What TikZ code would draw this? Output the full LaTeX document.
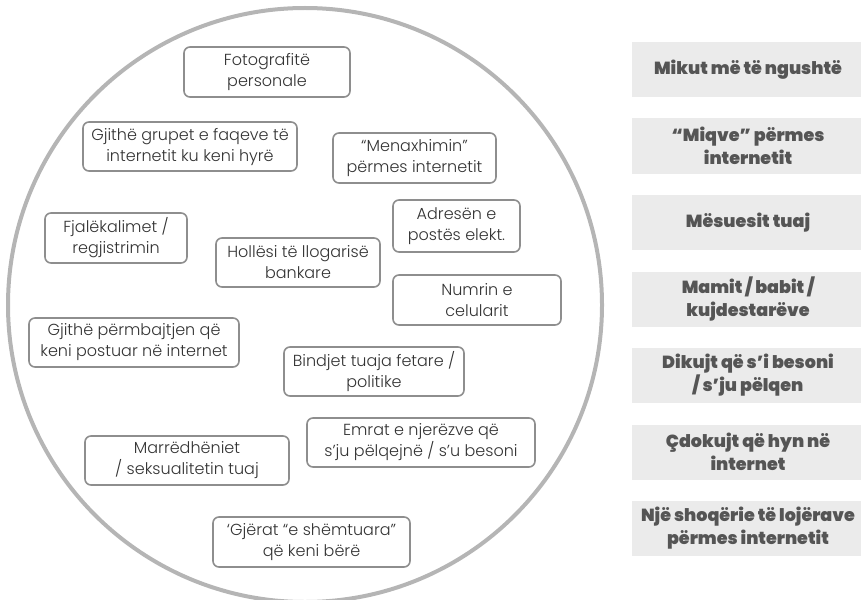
\documentclass[tikz,border=0pt]{standalone}
\usepackage{fontspec}
\setmainfont{Poppins}
\newfontfamily\thinfont{Poppins Light}
\newfontfamily\heavyfont{Poppins Black}
\usepackage{xcolor}
\usetikzlibrary{positioning}
\definecolor{ringgray}{HTML}{B5B5B5}
\definecolor{edgegray}{HTML}{8E8E8E}
\definecolor{textgray}{HTML}{333333}
\definecolor{panelgray}{HTML}{EBEBEB}
\definecolor{labelgray}{HTML}{555555}

\begin{document}
\begin{tikzpicture}[x=1pt,y=-1pt]
				\tikzstyle{ibox}=[draw=edgegray, line width=1.6pt, rounded corners=6pt, fill=white, inner sep=0pt, align=center, text=textgray, font=\thinfont\fontsize{16}{21}\selectfont]
				\tikzstyle{pbox}=[fill=panelgray, inner sep=0pt, minimum width=232pt, minimum height=55pt, align=center, text=labelgray, font=\heavyfont\fontsize{17.5}{23}\selectfont]
				\useasboundingbox (0,0) rectangle (861,599);
				% the big ring
				\draw[ringgray, line width=4pt] (305,305) circle (297);
				% boxes inside the ring
				\node[ibox, minimum width=166pt, minimum height=50pt] (foto) at (267,72) {Fotografitë\\personale};
				\node[ibox, minimum width=214pt, minimum height=49pt] (grupet) at (190,146.5) {Gjithë grupet e faqeve të\\internetit ku keni hyrë};
				\node[ibox, minimum width=163pt, minimum height=50pt] (menax) at (414.5,158) {“Menaxhimin”\\përmes internetit};
				\node[ibox, minimum width=127pt, minimum height=52pt] (adresa) at (456.5,226) {Adresën e\\postës elekt.};
				\node[ibox, minimum width=142pt, minimum height=50pt] (fjalekal) at (116,238) {Fjalëkalimet /\\regjistrimin};
				\node[ibox, minimum width=164pt, minimum height=49pt] (banka) at (298,262.5) {Hollësi të llogarisë\\bankare};
				\node[ibox, minimum width=168pt, minimum height=50pt] (celular) at (477,300) {Numrin e\\celularit};
				\node[ibox, minimum width=210pt, minimum height=49pt] (postime) at (134,342.5) {Gjithë përmbajtjen që\\keni postuar në internet};
				\node[ibox, minimum width=180pt, minimum height=49pt] (bindje) at (374,371.5) {Bindjet tuaja fetare /\\politike};
				\node[ibox, minimum width=228pt, minimum height=49pt] (emrat) at (421,442.5) {Emrat e njerëzve që\\s’ju pëlqejnë / s’u besoni};
				\node[ibox, minimum width=204pt, minimum height=49pt] (marredh) at (187,460.5) {Marrëdhëniet\\/ seksualitetin tuaj};
				\node[ibox, minimum width=197pt, minimum height=50pt] (gjerat) at (311.5,542) {‘Gjërat “e shëmtuara”\\që keni bërë};
				% panels on the right
				\node[pbox] (mik) at (748,69.5) {Mikut më të ngushtë};
				\node[pbox] (miqve) at (748,146) {“Miqve” përmes\\internetit};
				\node[pbox] (mesues) at (748,222.5) {Mësuesit tuaj};
				\node[pbox] (prind) at (748,299) {Mamit / babit /\\kujdestarëve};
				\node[pbox] (dikujt) at (748,375.5) {Dikujt që s’i besoni\\/ s’ju pëlqen};
				\node[pbox] (cdokujt) at (748,452) {Çdokujt që hyn në\\internet};
				\node[pbox] (lojera) at (748,528.5) {Një shoqërie të lojërave\\përmes internetit};
			\end{tikzpicture}
\end{document}
